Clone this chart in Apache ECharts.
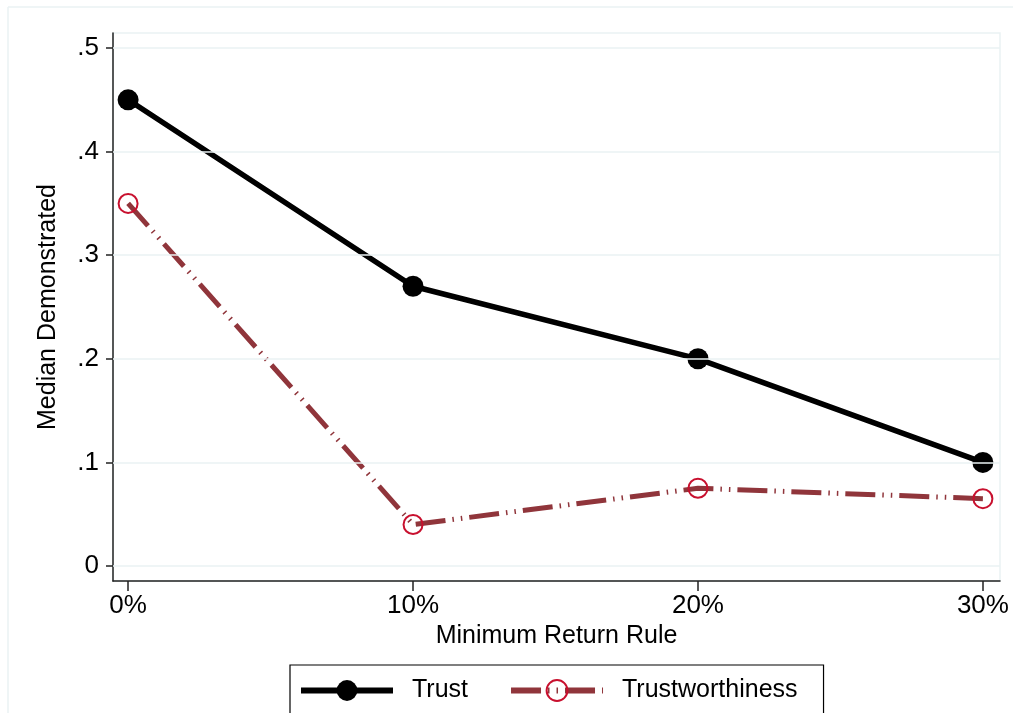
<!DOCTYPE html>
<html>
<head>
<meta charset="utf-8">
<script src="https://cdn.jsdelivr.net/npm/echarts@6/dist/echarts.min.js"></script>
<style>
html,body{margin:0;padding:0;background:#fff;}
#chart{width:1013px;height:713px;}
</style>
</head>
<body>
<div id="chart"></div>
<script>
// ---- data ----
const xValues = [0, 10, 20, 30];
const xTickLabels = ['0%', '10%', '20%', '30%'];
const trust = [0.45, 0.27, 0.20, 0.10];
const trustworthiness = [0.35, 0.04, 0.075, 0.065];
const yTicks = [0, 0.1, 0.2, 0.3, 0.4, 0.5];
const yTickLabels = ['0', '.1', '.2', '.3', '.4', '.5'];
const seriesNames = ['Trust', 'Trustworthiness'];
const xTitle = 'Minimum Return Rule';
const yTitle = 'Median Demonstrated';

const FONT = '"Liberation Sans", Arial, sans-serif';
const GRID = '#EAF2F3';

const chart = echarts.init(document.getElementById('chart'), null, {renderer: 'canvas'});

const xLabelMap = {};
xValues.forEach((v, i) => xLabelMap[v] = xTickLabels[i]);
const yLabelMap = {};
yTicks.forEach((v, i) => yLabelMap[v.toFixed(1)] = yTickLabels[i]);

const option = {
  backgroundColor: '#fff',
  animation: false,
  grid: {left: 113, top: 33, right: 13, bottom: 132, show: true, borderColor: GRID, borderWidth: 1.5, backgroundColor: 'transparent'},
  graphic: [
    {type: 'line', shape: {x1: 8, y1: 7, x2: 1013, y2: 7}, style: {stroke: GRID, lineWidth: 1.5}, silent: true},
    {type: 'line', shape: {x1: 8, y1: 7, x2: 8, y2: 713}, style: {stroke: GRID, lineWidth: 1.5}, silent: true}
  ],
  legend: {
    left: 290, top: 665,
    itemWidth: 92, itemHeight: 26, itemGap: 40,
    padding: [13, 26, 16, 8],
    borderColor: '#000', borderWidth: 1.2,
    textStyle: {fontFamily: FONT, fontSize: 25, color: '#000', padding: [0, 0, 0, 14]},
    data: [
      {name: seriesNames[0], lineStyle: {width: 6}},
      {name: seriesNames[1], lineStyle: {width: 6}}
    ]
  },
  xAxis: {
    type: 'value', min: -0.53, max: 30.6,
    name: xTitle, nameLocation: 'middle', nameGap: 41,
    nameTextStyle: {fontFamily: FONT, fontSize: 25, color: '#000'},
    axisLine: {show: true, onZero: false, lineStyle: {color: '#222', width: 1.5}},
    axisTick: {show: true, length: 10, customValues: xValues, lineStyle: {color: '#222', width: 1.5}},
    axisLabel: {customValues: xValues, margin: 12, fontFamily: FONT, fontSize: 26, color: '#000',
      formatter: v => xLabelMap[v] !== undefined ? xLabelMap[v] : ''},
    splitLine: {show: false}
  },
  yAxis: {
    type: 'value', min: -0.0145, max: 0.5145,
    name: yTitle, nameLocation: 'middle', nameGap: 52, nameRotate: 90,
    nameTextStyle: {fontFamily: FONT, fontSize: 25, color: '#000'},
    axisLine: {show: true, onZero: false, lineStyle: {color: '#222', width: 1.5}},
    axisTick: {show: true, length: 7, customValues: yTicks, lineStyle: {color: '#222', width: 1.5}},
    axisLabel: {customValues: yTicks, margin: 14, fontFamily: FONT, fontSize: 26, color: '#000',
      formatter: v => { const k = Number(v).toFixed(1); return yLabelMap[k] !== undefined ? yLabelMap[k] : ''; }},
    splitLine: {show: false}
  },
  series: [
    {
      name: '__grid', type: 'line', data: [], z: 0, silent: true,
      markLine: {
        silent: true, symbol: 'none', animation: false,
        label: {show: false},
        lineStyle: {color: GRID, type: 'solid', width: 1.5},
        data: yTicks.map(v => ({yAxis: v}))
      }
    },
    {
      name: seriesNames[0], type: 'line', z: 3,
      data: xValues.map((x, i) => [x, trust[i]]),
      symbol: 'circle', symbolSize: 21,
      itemStyle: {color: '#000', borderColor: '#000', borderWidth: 0},
      lineStyle: {color: '#000', width: 5.5}
    },
    {
      name: seriesNames[1], type: 'line', z: 2,
      data: xValues.map((x, i) => [x, trustworthiness[i]]),
      symbol: 'circle', symbolSize: 19,
      itemStyle: {color: 'rgba(255,255,255,0)', borderColor: '#C8102E', borderWidth: 2},
      lineStyle: {color: '#90353B', width: 5, type: [30, 7, 1.5, 7, 1.5, 7], cap: 'butt'}
    }
  ]
};
chart.setOption(option);
</script>
</body>
</html>
